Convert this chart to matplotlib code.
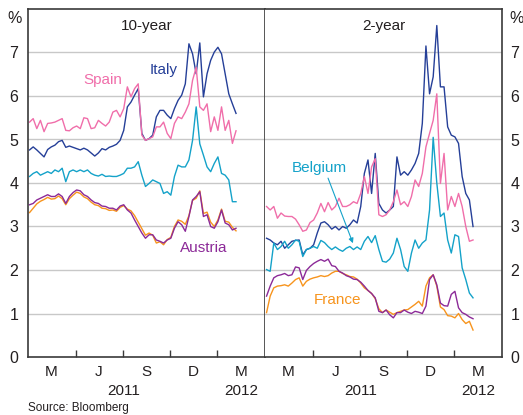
import numpy as np
import pandas as pd
import matplotlib
matplotlib.use('Agg')
import matplotlib.pyplot as plt
import matplotlib.dates as mdates
import matplotlib.transforms as mtransforms

plt.rcParams['font.family'] = 'Liberation Sans'

dates = pd.date_range('2011-03-04', periods=58, freq='7D')

# 10-year yields, %
italy_10 = [4.76, 4.83, 4.76, 4.68, 4.60, 4.77, 4.83, 4.87, 4.95, 4.98,
            4.82, 4.85, 4.82, 4.79, 4.76, 4.80, 4.76, 4.69, 4.62, 4.69,
            4.79, 4.76, 4.82, 4.85, 4.89, 4.98, 5.21, 5.75, 5.86, 6.02,
            6.17, 5.14, 4.98, 5.02, 5.10, 5.52, 5.67, 5.67, 5.56, 5.48,
            5.71, 5.90, 6.02, 6.28, 7.20, 6.97, 6.51, 7.22, 5.98, 6.51,
            6.82, 7.01, 7.12, 6.97, 6.51, 6.05, 5.82, 5.60]
spain_10 = [5.40, 5.48, 5.25, 5.44, 5.18, 5.37, 5.38, 5.40, 5.44, 5.48,
            5.21, 5.20, 5.27, 5.31, 5.25, 5.50, 5.48, 5.25, 5.27, 5.44,
            5.37, 5.31, 5.40, 5.63, 5.67, 5.52, 5.71, 6.21, 5.98, 6.17,
            6.28, 5.10, 4.98, 5.02, 5.06, 5.29, 5.29, 5.40, 5.14, 5.02,
            5.37, 5.52, 5.48, 5.63, 5.82, 6.36, 6.66, 5.75, 5.67, 5.82,
            5.18, 5.52, 5.21, 5.75, 5.21, 5.44, 4.91, 5.20]
belgium_10 = [4.15, 4.22, 4.26, 4.18, 4.22, 4.26, 4.22, 4.30, 4.26, 4.34,
              4.03, 4.26, 4.30, 4.26, 4.30, 4.26, 4.30, 4.22, 4.18, 4.16,
              4.20, 4.15, 4.16, 4.15, 4.15, 4.18, 4.22, 4.34, 4.34, 4.37,
              4.49, 4.18, 3.92, 3.99, 4.07, 4.03, 3.99, 3.76, 3.80, 3.72,
              4.15, 4.41, 4.37, 4.37, 4.53, 4.98, 5.75, 4.90, 4.64, 4.37,
              4.26, 4.45, 4.60, 4.22, 4.18, 4.07, 3.57, 3.57]
austria_10 = [3.50, 3.53, 3.61, 3.65, 3.69, 3.73, 3.69, 3.69, 3.75, 3.69,
              3.53, 3.69, 3.78, 3.84, 3.82, 3.73, 3.69, 3.61, 3.55, 3.53,
              3.47, 3.46, 3.42, 3.42, 3.38, 3.47, 3.50, 3.38, 3.31, 3.15,
              3.00, 2.85, 2.73, 2.81, 2.81, 2.69, 2.66, 2.62, 2.69, 2.73,
              2.96, 3.11, 3.04, 2.89, 3.23, 3.61, 3.69, 3.80, 3.23, 3.27,
              3.00, 2.96, 3.11, 3.38, 3.08, 3.04, 2.92, 2.96]
france_10 = [3.32, 3.42, 3.52, 3.58, 3.62, 3.67, 3.63, 3.64, 3.70, 3.64,
             3.50, 3.64, 3.72, 3.79, 3.76, 3.68, 3.64, 3.56, 3.50, 3.48,
             3.42, 3.41, 3.37, 3.38, 3.35, 3.44, 3.48, 3.40, 3.36, 3.25,
             3.10, 2.95, 2.80, 2.85, 2.80, 2.62, 2.65, 2.58, 2.70, 2.75,
             3.00, 3.15, 3.12, 3.05, 3.25, 3.60, 3.65, 3.82, 3.30, 3.33,
             3.10, 3.00, 3.15, 3.40, 3.12, 3.10, 2.98, 2.90]

# 2-year yields, %
italy_2 = [2.73, 2.69, 2.62, 2.58, 2.66, 2.50, 2.58, 2.66, 2.68, 2.69,
           2.35, 2.47, 2.50, 2.58, 2.85, 3.08, 3.11, 3.04, 2.94, 3.00,
           2.92, 3.00, 2.96, 3.04, 3.15, 3.08, 3.46, 4.22, 4.53, 3.76,
           4.68, 3.53, 3.38, 3.31, 3.38, 3.46, 4.60, 4.18, 4.26, 4.18,
           4.30, 4.45, 4.68, 5.37, 7.15, 6.05, 6.44, 7.62, 6.21, 6.21,
           5.29, 5.10, 5.06, 4.91, 4.15, 3.76, 3.61, 3.00]
spain_2 = [3.46, 3.38, 3.46, 3.19, 3.31, 3.24, 3.23, 3.23, 3.17, 3.04,
           2.89, 2.92, 3.09, 3.15, 3.31, 3.53, 3.34, 3.55, 3.38, 3.46,
           3.65, 3.46, 3.46, 3.50, 3.57, 3.53, 3.76, 4.15, 3.76, 4.37,
           4.56, 3.27, 3.23, 3.27, 3.38, 3.57, 3.84, 3.50, 3.57, 3.46,
           3.69, 4.07, 3.92, 4.22, 4.83, 5.14, 5.44, 6.05, 3.99, 4.68,
           3.38, 3.69, 3.46, 3.76, 3.46, 3.00, 2.66, 2.69]
belgium_2 = [2.01, 1.97, 2.62, 2.47, 2.54, 2.66, 2.50, 2.58, 2.69, 2.66,
             2.31, 2.47, 2.50, 2.54, 2.50, 2.68, 2.63, 2.54, 2.47, 2.53,
             2.47, 2.43, 2.50, 2.54, 2.47, 2.53, 2.47, 2.66, 2.77, 2.63,
             2.79, 2.47, 2.20, 2.18, 2.25, 2.39, 2.73, 2.47, 2.08, 1.97,
             2.39, 2.69, 2.50, 2.62, 2.69, 3.38, 5.05, 4.00, 3.23, 3.31,
             2.69, 2.39, 2.81, 2.77, 2.05, 1.78, 1.47, 1.36]
austria_2 = [1.40, 1.63, 1.82, 1.87, 1.89, 1.92, 1.87, 1.89, 2.07, 2.05,
             1.78, 1.99, 2.08, 2.15, 2.20, 2.24, 2.20, 2.25, 2.10, 2.08,
             1.97, 1.93, 1.87, 1.84, 1.79, 1.78, 1.72, 1.63, 1.53, 1.46,
             1.36, 1.05, 1.02, 1.08, 0.97, 0.90, 1.02, 1.02, 1.08, 1.03,
             1.00, 1.05, 1.03, 1.00, 1.17, 1.78, 1.89, 1.66, 1.24, 1.18,
             1.17, 1.44, 1.51, 1.13, 1.02, 0.98, 0.92, 0.88]
france_2 = [1.02, 1.40, 1.59, 1.63, 1.64, 1.66, 1.63, 1.70, 1.78, 1.82,
            1.63, 1.74, 1.79, 1.82, 1.84, 1.87, 1.85, 1.87, 1.93, 1.97,
            1.97, 1.92, 1.89, 1.85, 1.84, 1.79, 1.70, 1.59, 1.53, 1.46,
            1.34, 1.11, 1.02, 1.08, 1.03, 0.98, 1.02, 1.05, 1.08, 1.09,
            1.15, 1.21, 1.28, 1.17, 1.63, 1.82, 1.89, 1.63, 1.15, 1.09,
            0.95, 0.94, 0.90, 1.00, 0.86, 0.77, 0.82, 0.62]

month_labels = ['M', 'J', 'S', 'D', 'M']
year_labels = ['2011', '2012']

# Colori
c_italy = '#253f98'
c_spain = '#f06eaa'
c_belgium = '#14a2c9'
c_austria = '#8c2a98'
c_france = '#f7941d'
c_frame = '#3a3a3a'
c_text = '#231f20'

fig = plt.figure(figsize=(5.23, 4.15), dpi=100)
ax1 = fig.add_axes([28 / 523, 58 / 415, 237 / 523, 348 / 415])
ax2 = fig.add_axes([265 / 523, 58 / 415, 237 / 523, 348 / 415])

panels = [
    (ax1, '10-year', [italy_10, spain_10, belgium_10, france_10, austria_10]),
    (ax2, '2-year', [italy_2, spain_2, belgium_2, france_2, austria_2]),
]
colors = [c_italy, c_spain, c_belgium, c_france, c_austria]

quarter_ticks = pd.to_datetime(['2011-06-01', '2011-09-01', '2011-12-01', '2012-03-01'])
mid_quarters = pd.to_datetime(['2011-04-15', '2011-07-16', '2011-10-16', '2012-01-15', '2012-04-16'])
year_pos = pd.to_datetime(['2011-09-01', '2012-04-16'])

for ax, title, series in panels:

    for values, color in zip(series, colors):
        ax.plot(dates, values, color=color, linewidth=1.0)

    ax.set_xlim(pd.Timestamp('2011-03-01'), pd.Timestamp('2012-06-01'))
    ax.set_ylim(0, 8)

    # Griglia
    for level in range(1, 8):
        ax.axhline(level, color='#c8c8c8', linewidth=1.0, zorder=0)

    ax.set_xticks(quarter_ticks)
    ax.set_xticklabels([])
    ax.set_xticks(mid_quarters, minor=True)
    ax.set_xticklabels(month_labels, minor=True)
    ax.tick_params(axis='x', which='major', direction='in', length=5, width=1.0, color=c_frame)
    ax.tick_params(axis='x', which='minor', length=0, pad=6, labelsize=11, labelcolor=c_text)

    ax.set_yticks(range(0, 8))
    ax.tick_params(axis='y', length=0, labelsize=11.5, labelcolor=c_text)

    for spine in ax.spines.values():
        spine.set_color(c_frame)
        spine.set_linewidth(1.2)

    ax.text(0.5, 0.951, title, transform=ax.transAxes, ha='center', va='center',
            fontsize=11, color=c_text)

    trans = mtransforms.blended_transform_factory(ax.transData, ax.transAxes)
    for pos, label in zip(year_pos, year_labels):
        ax.text(pos, -0.098, label, transform=trans, ha='center', va='center',
                fontsize=11, color=c_text)

ax1.tick_params(axis='y', pad=7)
ax2.yaxis.tick_right()
ax2.tick_params(axis='y', pad=6)
ax2.spines['left'].set_visible(False)

ax1.text(-0.025, 0.972, '%', transform=ax1.transAxes, ha='right', va='center',
         fontsize=11.5, color=c_text)
ax2.text(1.032, 0.972, '%', transform=ax2.transAxes, ha='left', va='center',
         fontsize=11.5, color=c_text)

# Etichette serie
ax1.text(0.316, 0.796, 'Spain', transform=ax1.transAxes, ha='center', va='center',
         fontsize=11, color=c_spain)
ax1.text(0.574, 0.825, 'Italy', transform=ax1.transAxes, ha='center', va='center',
         fontsize=11, color=c_italy)
ax1.text(0.743, 0.313, 'Austria', transform=ax1.transAxes, ha='center', va='center',
         fontsize=11, color=c_austria)
ax2.text(0.228, 0.543, 'Belgium', transform=ax2.transAxes, ha='center', va='center',
         fontsize=11, color=c_belgium)
ax2.text(0.304, 0.164, 'France', transform=ax2.transAxes, ha='center', va='center',
         fontsize=11, color=c_france)
ax2.annotate('', xy=(0.371, 0.327), xytext=(0.266, 0.514),
             xycoords='axes fraction', textcoords='axes fraction',
             arrowprops=dict(arrowstyle='-|>', color=c_belgium, lw=0.8,
                             mutation_scale=7, shrinkA=0, shrinkB=0))

fig.text(28 / 523, 1 - 408 / 415, 'Source: Bloomberg', ha='left', va='center',
         fontsize=8.5, color=c_text)

plt.savefig('out.png', dpi=100)
